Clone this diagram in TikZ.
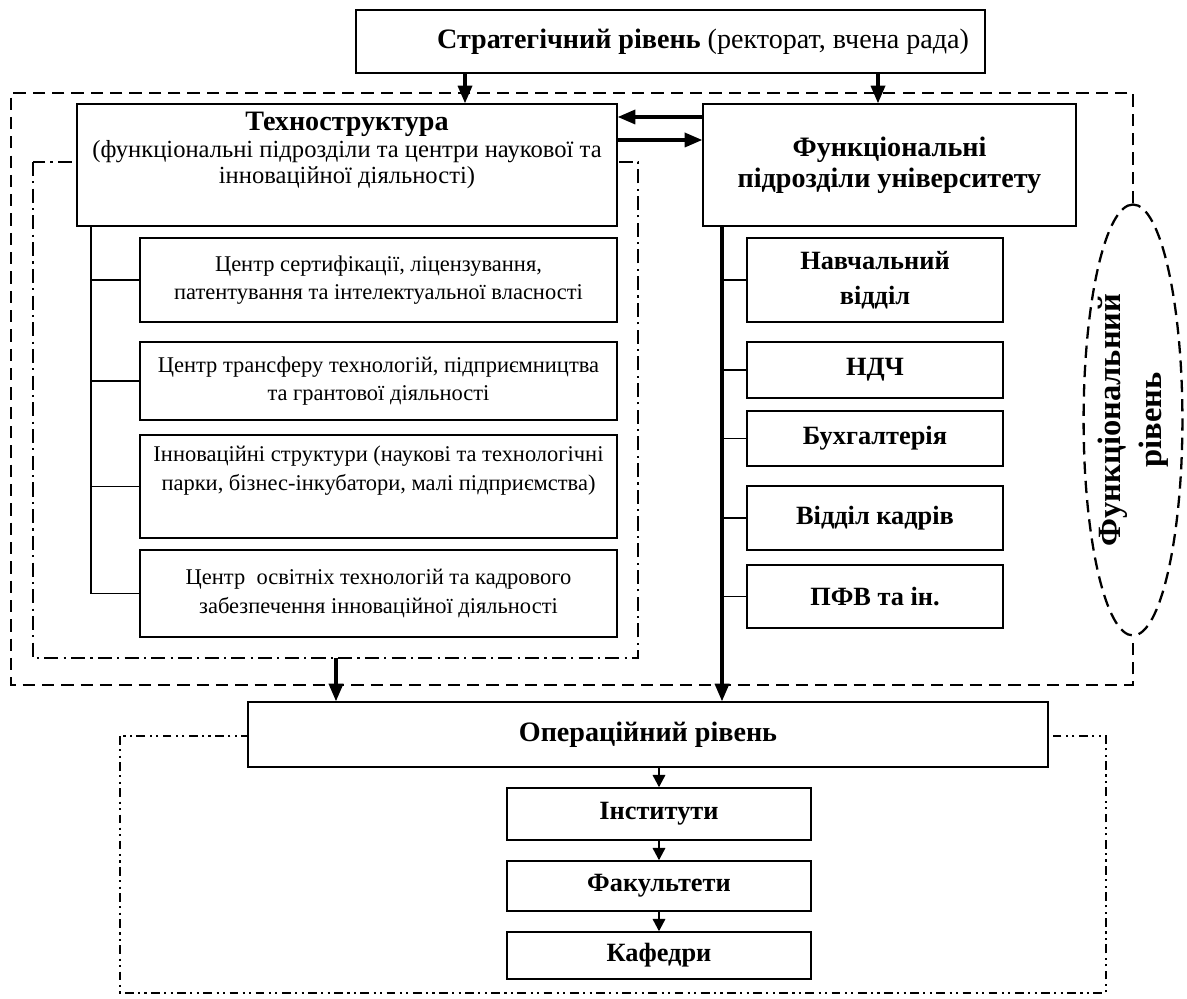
\documentclass[tikz,border=0pt]{standalone}
\usepackage{fontspec}
\setmainfont{Liberation Serif}
\usetikzlibrary{positioning,arrows.meta,shapes.geometric}

\tikzset{
  sz/.style 2 args={minimum width=#1*0.02cm, minimum height=#2*0.02cm},
  blk/.style={draw, line width=0.8pt, fill=white, align=center, inner sep=0pt},
  subtxt/.style={font=\fontsize{12.8}{16}\selectfont},
  unittxt/.style={font=\fontsize{15}{20}\selectfont\bfseries},
  lowtxt/.style={font=\fontsize{15}{17}\selectfont\bfseries},
  arr/.style={line width=1.8pt, -{Triangle[length=10pt,width=8pt]}},
  arrsm/.style={line width=1.3pt, -{Triangle[length=7pt,width=7pt]}},
  link/.style={line width=0.7pt},
  outerzone/.style={line width=1.3pt, dash pattern=on 7pt off 4pt},
  techzone/.style={line width=0.9pt, dash pattern=on 8pt off 3pt on 1.2pt off 3pt},
  opzone/.style={line width=0.9pt, dash pattern=on 5pt off 2.5pt on 1.2pt off 2.5pt on 1.2pt off 2.5pt},
}

\begin{document}
\begin{tikzpicture}[x=0.02cm, y=-0.02cm]
\useasboundingbox (0,0) rectangle (1187,999);

% zones
\node[draw, outerzone, shape=ellipse, rotate=90, inner sep=0pt, sz={431}{96}, align=center,
      font=\fontsize{18.5}{23}\selectfont\bfseries] (funclvl) at (1133,420) {Функціональний\\ рівень};
% rotated node: east is the top, west the bottom
\draw[outerzone] (funclvl.east) |- (11,93) |- (funclvl.west |- 0,685) -- (funclvl.west);
\draw[techzone] (33,162) rectangle (638,658);
\draw[opzone] (120,736) rectangle (1106,993);

% top
\node[blk, text width=11.94cm, inner xsep=0.32cm, minimum height=63*0.02cm, align=flush right,
      font=\fontsize{16}{19}\selectfont] (strat) at (670.5,41.5)
     {{\bfseries Стратегічний рівень} (ректорат, вчена рада)};
\node[blk, sz={540}{122}, font=\fontsize{14}{15}\selectfont] (texno) at (347,165)
     {{\fontsize{16}{15}\selectfont\bfseries Техноструктура}\\ (функціональні підрозділи та центри наукової та\\ інноваційної діяльності)\\ \strut};
\node[blk, sz={373}{122}, font=\fontsize{16}{17.5}\selectfont\bfseries] (func) at (889.5,165)
     {Функціональні\\ підрозділи університету};

% technostructure units
\node[blk, subtxt, sz={477}{84}]  (ts1) at (378.5,280)   {Центр сертифікації, ліцензування,\\ патентування та інтелектуальної власності};
\node[blk, subtxt, sz={477}{78}]  (ts2) at (378.5,381)   {Центр трансферу технологій, підприємництва\\ та грантової діяльності};
\node[blk, subtxt, sz={477}{103}] (ts3) at (378.5,486.5) {Інноваційні структури (наукові та технологічні\\ парки, бізнес-інкубатори, малі підприємства)\\ \strut};
\node[blk, subtxt, sz={477}{87}]  (ts4) at (378.5,593.5) {Центр\ \ освітніх технологій та кадрового\\ забезпечення інноваційної діяльності};

% functional units
\node[blk, unittxt, sz={256}{84}] (fs1) at (875,280)   {Навчальний\\ відділ};
\node[blk, unittxt, sz={256}{56}] (fs2) at (875,370)   {НДЧ};
\node[blk, unittxt, sz={256}{55}] (fs3) at (875,438.5) {Бухгалтерія};
\node[blk, unittxt, sz={256}{64}] (fs4) at (875,518)   {Відділ кадрів};
\node[blk, unittxt, sz={256}{63}] (fs5) at (875,596.5) {ПФВ та ін.};

% operational level
\node[blk, sz={800}{65}, font=\fontsize{16}{19}\selectfont\bfseries] (oper) at (648,734.5) {Операційний рівень};
\node[blk, lowtxt, sz={304}{52}] (inst) at (659,814)   {Інститути};
\node[blk, lowtxt, sz={304}{50}] (fac)  at (659,886)   {Факультети};
\node[blk, lowtxt, sz={304}{47}] (kaf)  at (659,955.5) {Кафедри};

% connectors
\coordinate (tx) at (465,0);
\coordinate (fx) at (878,0);
\coordinate (ya) at (0,117);
\coordinate (yb) at (0,140);
\draw[arr] (strat.south -| tx) -- (texno.north -| tx);
\draw[arr] (strat.south -| fx) -- (func.north -| fx);
\draw[arr] (func.west |- ya) -- (texno.east |- ya);
\draw[arr] (texno.east |- yb) -- (func.west |- yb);

\coordinate (tree) at (91,0);
\draw[link] (texno.south -| tree) |- (ts4.west);
\foreach \n in {ts1,ts2,ts3} \draw[link] (\n.west -| tree) -- (\n.west);

\coordinate (spine) at (722,0);
\draw[arr] (func.south -| spine) -- (oper.north -| spine);
\foreach \n in {fs1,fs2,fs3,fs4,fs5} \draw[link] (\n.west -| spine) -- (\n.west);

\coordinate (drop) at (336,658);
\draw[arr] (drop) -- (oper.north -| drop);
\draw[arrsm] (inst.north |- oper.south) -- (inst.north);
\draw[arrsm] (inst) -- (fac);
\draw[arrsm] (fac) -- (kaf);
\end{tikzpicture}
\end{document}
